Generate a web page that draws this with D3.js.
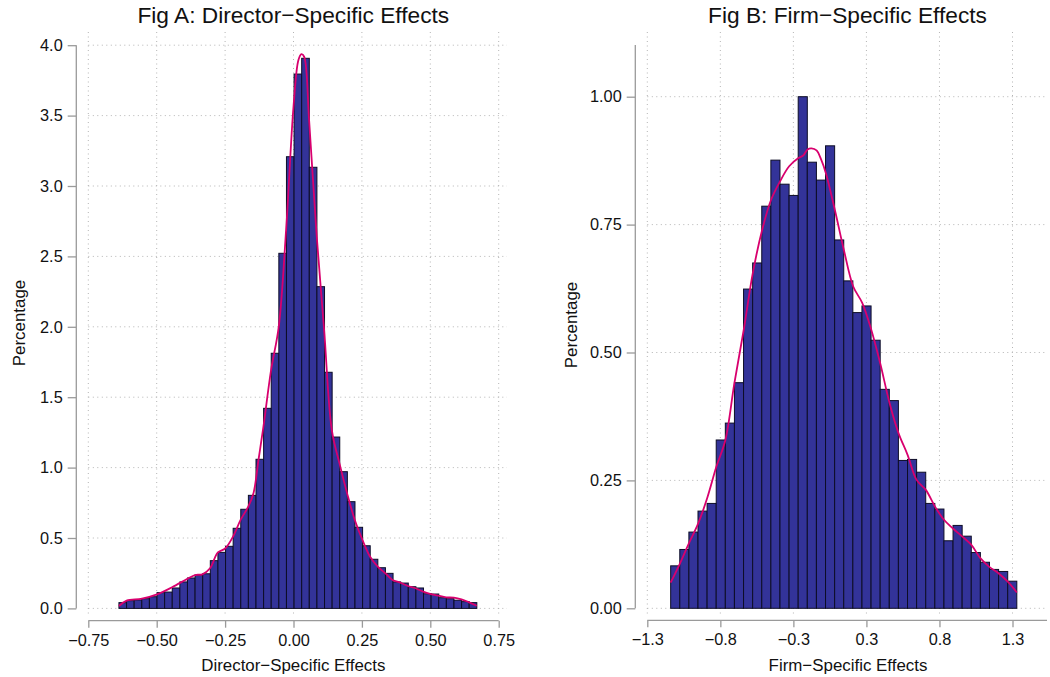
<!DOCTYPE html>
<html>
<head>
<meta charset="utf-8">
<script src="https://cdn.jsdelivr.net/npm/d3@7"></script>
<style>
  body { margin: 0; background: #fff; }
  svg { display: block; font-family: "Liberation Sans", Arial, sans-serif; }
</style>
</head>
<body>
<div id="chart"></div>
<script>
// Fig A: director effects, histogram in percent
const dirBinStart = -0.638;
const dirBinWidth = 0.02783;
const dirPct = [0.041, 0.055, 0.060, 0.069, 0.083, 0.112, 0.116, 0.145, 0.188, 0.216,
  0.237, 0.246, 0.339, 0.398, 0.441, 0.569, 0.704, 0.803, 1.059, 1.421,
  1.812, 2.522, 3.208, 3.795, 3.907, 3.133, 2.285, 1.677, 1.217, 0.971,
  0.758, 0.576, 0.445, 0.349, 0.289, 0.249, 0.188, 0.180, 0.154, 0.145,
  0.104, 0.102, 0.076, 0.069, 0.058, 0.048, 0.041];
// density curve
const dirKdeX = [-0.638, -0.610, -0.554, -0.499, -0.444, -0.388, -0.360, -0.333, -0.305, -0.277,
  -0.249, -0.221, -0.193, -0.165, -0.146, -0.128, -0.110, -0.082, -0.054, -0.027,
  0.000, 0.018, 0.029, 0.039, 0.057, 0.085, 0.112, 0.140, 0.168, 0.196,
  0.224, 0.252, 0.280, 0.308, 0.336, 0.362, 0.390, 0.418, 0.446, 0.474,
  0.502, 0.530, 0.558, 0.586, 0.614, 0.640, 0.670];
const dirKdeY = [0.017, 0.055, 0.069, 0.100, 0.150, 0.210, 0.237, 0.242, 0.285, 0.396,
  0.427, 0.510, 0.630, 0.724, 0.820, 1.054, 1.290, 1.693, 2.000, 2.688,
  3.563, 3.895, 3.937, 3.918, 3.469, 2.640, 1.977, 1.267, 1.030, 0.817,
  0.628, 0.486, 0.367, 0.296, 0.249, 0.202, 0.183, 0.159, 0.143, 0.119,
  0.102, 0.090, 0.079, 0.076, 0.064, 0.045, 0.019];
const dirXTicks = [-0.75, -0.5, -0.25, 0, 0.25, 0.5, 0.75];
const dirYTicks = [0, 0.5, 1, 1.5, 2, 2.5, 3, 3.5, 4];

// Fig B: firm effects
const firmBinStart = -1.1336;
const firmBinWidth = 0.06485;
const firmPct = [0.083, 0.115, 0.149, 0.190, 0.205, 0.329, 0.362, 0.441, 0.624, 0.675,
  0.786, 0.876, 0.829, 0.807, 1.000, 0.872, 0.837, 0.904, 0.720, 0.640,
  0.578, 0.591, 0.524, 0.428, 0.406, 0.289, 0.291, 0.266, 0.205, 0.194,
  0.132, 0.162, 0.141, 0.109, 0.090, 0.076, 0.072, 0.053];
const firmKdeX = [-1.134, -1.067, -1.004, -0.939, -0.874, -0.808, -0.744, -0.680, -0.613, -0.549,
  -0.482, -0.418, -0.354, -0.290, -0.224, -0.190, -0.159, -0.131, -0.095, -0.062,
  -0.029, 0.035, 0.099, 0.166, 0.230, 0.294, 0.358, 0.425, 0.489, 0.553,
  0.617, 0.684, 0.748, 0.812, 0.876, 0.943, 1.007, 1.071, 1.135, 1.202,
  1.266, 1.331];
const firmKdeY = [0.050, 0.088, 0.127, 0.165, 0.215, 0.277, 0.329, 0.440, 0.545, 0.655,
  0.740, 0.799, 0.835, 0.864, 0.880, 0.885, 0.897, 0.899, 0.895, 0.877,
  0.851, 0.779, 0.701, 0.629, 0.597, 0.545, 0.479, 0.401, 0.342, 0.300,
  0.251, 0.231, 0.199, 0.173, 0.156, 0.140, 0.124, 0.098, 0.081, 0.068,
  0.052, 0.031];
const firmXTicks = [-1.3, -0.78, -0.26, 0.26, 0.78, 1.3];
const firmYTicks = [0, 0.25, 0.5, 0.75, 1];

const W = 1050, H = 677;
const barFill = '#333399', curveCol = '#d8006e', gridCol = '#b4b4b4', axisCol = '#9a9a9a';

const svg = d3.select('#chart').append('svg')
  .attr('width', W).attr('height', H)
  .attr('viewBox', `0 0 ${W} ${H}`);

const panels = [
  {
    title: 'Fig A: Director\u2212Specific Effects', titleX: 293.3,
    xlab: 'Director\u2212Specific Effects', xlabX: 293.3,
    ylabX: 25, ylabY: 323,
    x: d3.scaleLinear().domain([-0.75, 0.75]).range([88.3, 498.7]),
    y: d3.scaleLinear().domain([0, 4]).range([608.4, 45.2]),
    box: { left: 88.3, right: 507, top: 32, bottom: 615 },
    yAxisX: 76.3, yAxisTop: 45.2, xAxisY: 620.7, xAxisRight: 498.7,
    xTicks: dirXTicks, yTicks: dirYTicks, xFmt: d3.format('.2f'), yFmt: d3.format('.1f'),
    binStart: dirBinStart, binWidth: dirBinWidth, pct: dirPct, kx: dirKdeX, ky: dirKdeY
  },
  {
    title: 'Fig B: Firm\u2212Specific Effects', titleX: 847.5,
    xlab: 'Firm\u2212Specific Effects', xlabX: 848,
    ylabX: 577, ylabY: 325,
    x: d3.scaleLinear().domain([-1.3, 1.3]).range([647.3, 1012.5]),
    y: d3.scaleLinear().domain([0, 1]).range([608.3, 96.7]),
    box: { left: 647.3, right: 1047, top: 32, bottom: 615 },
    yAxisX: 635.3, yAxisTop: 45, xAxisY: 620.3, xAxisRight: 1047,
    xTicks: firmXTicks, yTicks: firmYTicks, xFmt: d3.format('.1f'), yFmt: d3.format('.2f'),
    binStart: firmBinStart, binWidth: firmBinWidth, pct: firmPct, kx: firmKdeX, ky: firmKdeY
  }
];

panels.forEach(p => {
  const g = svg.append('g');
  const { x, y, box } = p;

  // dotted grid
  g.append('g').selectAll('line.v').data(p.xTicks).enter().append('line')
    .attr('x1', d => x(d)).attr('x2', d => x(d))
    .attr('y1', box.top).attr('y2', box.bottom)
    .attr('stroke', gridCol).attr('stroke-width', 1).attr('stroke-dasharray', '1,3.5');
  g.append('g').selectAll('line.h').data(p.yTicks).enter().append('line')
    .attr('x1', box.left).attr('x2', box.right)
    .attr('y1', d => y(d)).attr('y2', d => y(d))
    .attr('stroke', gridCol).attr('stroke-width', 1).attr('stroke-dasharray', '1,3.5');

  // bars
  g.append('g').selectAll('rect').data(p.pct).enter().append('rect')
    .attr('x', (d, i) => x(p.binStart + i * p.binWidth))
    .attr('width', (d, i) => x(p.binStart + (i + 1) * p.binWidth) - x(p.binStart + i * p.binWidth))
    .attr('y', d => y(d))
    .attr('height', d => y(0) - y(d))
    .attr('fill', barFill).attr('stroke', '#0d0d26').attr('stroke-width', 1);

  // density
  const line = d3.line().x(d => x(d[0])).y(d => y(d[1])).curve(d3.curveCatmullRom.alpha(0.5));
  g.append('path').datum(p.kx.map((v, i) => [v, p.ky[i]]))
    .attr('d', line).attr('fill', 'none')
    .attr('stroke', curveCol).attr('stroke-width', 1.8);

  // y axis
  const ya = g.append('g').attr('transform', `translate(${p.yAxisX},0)`)
    .call(d3.axisLeft(y).tickValues(p.yTicks).tickFormat(p.yFmt).tickSize(8.6).tickPadding(5));
  ya.select('.domain').remove();
  ya.append('line').attr('x1', 0).attr('x2', 0).attr('y1', p.yAxisTop).attr('y2', y(0))
    .attr('stroke', axisCol).attr('stroke-width', 1.3);
  ya.selectAll('.tick line').attr('stroke', axisCol).attr('stroke-width', 1.3);
  ya.selectAll('.tick text').attr('fill', '#111').attr('font-size', 16.3)
    .attr('font-family', '"Liberation Sans", Arial, sans-serif');

  // x axis
  const xa = g.append('g').attr('transform', `translate(0,${p.xAxisY})`)
    .call(d3.axisBottom(x).tickValues(p.xTicks).tickFormat(p.xFmt).tickSize(7).tickPadding(6.4));
  xa.select('.domain').remove();
  xa.append('line').attr('x1', x(p.xTicks[0])).attr('x2', p.xAxisRight).attr('y1', 0).attr('y2', 0)
    .attr('stroke', axisCol).attr('stroke-width', 1.3);
  xa.selectAll('.tick line').attr('stroke', axisCol).attr('stroke-width', 1.3);
  xa.selectAll('.tick text').attr('fill', '#111').attr('font-size', 16.3)
    .attr('font-family', '"Liberation Sans", Arial, sans-serif');

  // texts
  g.append('text').attr('x', p.titleX).attr('y', 23.3).attr('text-anchor', 'middle')
    .attr('font-size', 22.7).attr('fill', '#111').text(p.title);
  g.append('text').attr('x', p.xlabX).attr('y', 671).attr('text-anchor', 'middle')
    .attr('font-size', 16.9).attr('fill', '#111').text(p.xlab);
  g.append('text').attr('transform', `translate(${p.ylabX},${p.ylabY}) rotate(-90)`)
    .attr('text-anchor', 'middle').attr('font-size', 16.9).attr('fill', '#111').text('Percentage');
});
</script>
</body>
</html>
